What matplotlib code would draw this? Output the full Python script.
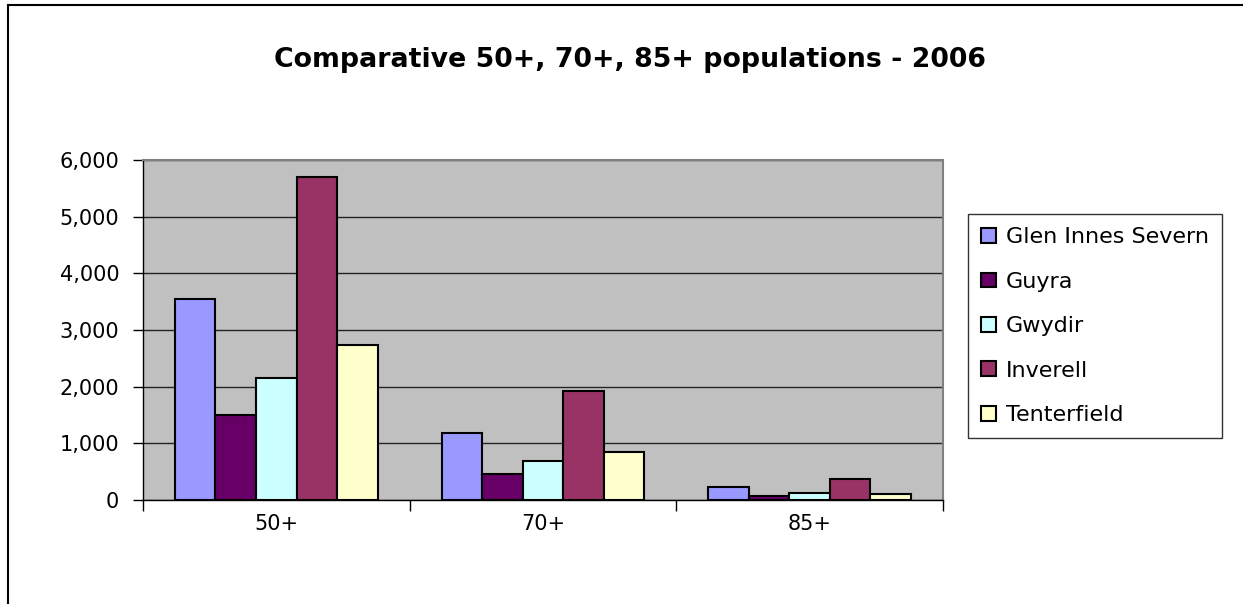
import matplotlib.pyplot as plt
from matplotlib.patches import Rectangle
from matplotlib.ticker import FuncFormatter
import numpy as np

# Population counts by age band, 2006
age_groups = ['50+', '70+', '85+']
councils = ['Glen Innes Severn', 'Guyra', 'Gwydir', 'Inverell', 'Tenterfield']
glen_innes = [3540, 1190, 225]
guyra = [1495, 460, 75]
gwydir = [2145, 690, 115]
inverell = [5705, 1915, 375]
tenterfield = [2735, 840, 110]
colors = ['#9999FF', '#660066', '#CCFFFF', '#993366', '#FFFFCC']

series = [glen_innes, guyra, gwydir, inverell, tenterfield]

fig = plt.figure(figsize=(12.43, 6.04), dpi=100)
ax = fig.add_axes([0.115, 0.1722, 0.6435, 0.5628])

# frame around the whole chart
fig.patches.append(Rectangle((8 / 1243, -0.1), 1.2, 1 - 5 / 604 + 0.1,
                             transform=fig.transFigure, fill=False,
                             edgecolor='black', linewidth=1.5))

x = np.arange(len(age_groups))
width = 0.152
for i, (name, vals) in enumerate(zip(councils, series)):
    offset = (i - 2) * width
    ax.bar(x + offset, vals, width, color=colors[i], edgecolor='black',
           linewidth=1.5, label=name, zorder=3)

ax.set_facecolor('#C0C0C0')
ax.set_xlim(-0.5, 2.5)
ax.set_ylim(0, 6000)
ax.set_yticks(range(0, 6001, 1000))
ax.yaxis.set_major_formatter(FuncFormatter(lambda v, p: f'{int(v):,}'))
ax.grid(axis='y', color='#222222', linewidth=1, zorder=1)

ax.set_xticks(x)
ax.set_xticklabels(age_groups)
ax.set_xticks([-0.5, 0.5, 1.5, 2.5], minor=True)
ax.tick_params(axis='x', which='major', length=0, pad=10, labelsize=15)
ax.tick_params(axis='x', which='minor', length=8, width=1, color='black')
ax.tick_params(axis='y', length=7, width=1, labelsize=15, pad=10)

for side in ['top', 'right']:
    ax.spines[side].set_color('#808080')
    ax.spines[side].set_linewidth(1.5)
for side in ['left', 'bottom']:
    ax.spines[side].set_color('black')
    ax.spines[side].set_linewidth(1)

fig.text(0.507, 0.9, 'Comparative 50+, 70+, 85+ populations - 2006',
         ha='center', va='center', fontsize=19.3, fontweight='bold')

leg = ax.legend(loc='upper left', bbox_to_anchor=(968 / 1243, 1 - 214 / 604),
                bbox_transform=fig.transFigure, fontsize=16, frameon=True,
                fancybox=False, edgecolor='black', labelspacing=1.1,
                handlelength=0.65, handleheight=0.65, handletextpad=0.45,
                borderpad=0.6, borderaxespad=0)
leg.get_frame().set_linewidth(1)

fig.savefig('out.png', dpi=100)
